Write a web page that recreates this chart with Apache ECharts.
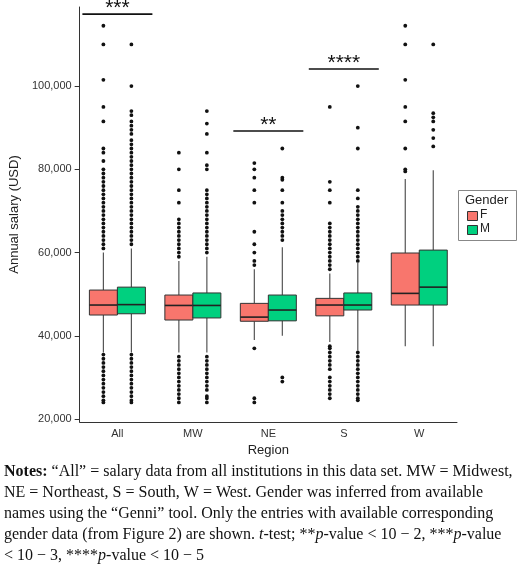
<!DOCTYPE html>
<html><head><meta charset="utf-8">
<script src="https://cdn.jsdelivr.net/npm/echarts@6/dist/echarts.min.js"></script>
<style>body{margin:0;background:#fff}#c{width:520px;height:570px}</style>
</head><body><div id="c"></div>
<script>
const categories = ['All','MW','NE','S','W'];
const yTicks = [20000,40000,60000,80000,100000];
// [whiskerLow, q1, median, q3, whiskerHigh]
const femaleBoxes = [
  [36000,45000,47400,51000,60000],
  [36000,43800,47300,49800,58000],
  [39000,43500,44500,47800,56000],
  [38500,44800,47400,49000,55000],
  [37500,47400,50200,59900,77700]
];
const maleBoxes = [
  [36000,45300,47500,51700,61000],
  [36000,44300,47300,50300,59000],
  [40000,43600,46200,49800,61300],
  [36500,46200,47400,50300,57500],
  [37500,47400,51700,60600,79800]
];
const femaleOutliers = [
  [114500,110000,101500,95000,91500,85000,84000,82000,80000,79000,78000,77000,76000,75000,74000,73000,72000,71000,70000,69000,68000,67000,66000,65000,64000,63000,62000,61000,35500,34500,33500,32500,31500,30500,29500,28500,27500,26500,25500,24500,24000],
  [84000,80000,75000,72000,68000,67000,66000,65000,64000,63000,62000,61000,60000,59000,35000,34000,33000,32000,31000,30000,29000,28000,27000,26000,25000,24000],
  [81500,80000,78000,75000,72000,65000,62000,60000,58000,57000,37000,25000,24000],
  [95000,77000,75000,72000,67000,66000,65000,64000,63000,62000,61000,60000,59000,58000,57000,56000,37500,37000,36000,35000,34000,33000,32000,30000,29000,28000,27000,26000,25000],
  [114500,110000,101500,95000,91500,85000,80000,79500]
];
const maleOutliers = [
  [110000,100000,94000,93000,91500,90500,89500,88500,87000,86000,85000,84000,83000,82000,81000,80000,79000,78000,77000,76000,75000,74000,73000,72000,71000,70000,69000,68000,67000,66000,65000,64000,63000,62000,35500,34500,33500,32500,31500,30500,29500,28500,27500,26500,25500,24500,24000],
  [94000,91000,88500,84000,81000,80000,75000,74000,73000,72000,71000,70000,69000,68000,67000,66000,65000,64000,63000,62000,61000,60000,35000,34000,33000,32000,31000,30000,29000,28000,27000,25500,25000,24000],
  [85000,78000,77500,75000,72000,70000,69000,68000,67000,66000,65000,64000,63000,30000,29000],
  [100000,90000,85000,75000,73000,71000,70000,69000,68000,67000,66000,65000,64000,63000,62000,61000,60000,59000,58000,36000,35000,34000,33000,32000,31000,30000,29000,28000,27000,26000,25000,24500],
  [110000,93500,92500,91500,89500,87500,85500]
];
const signif = [['All',117300,'***'],['NE',89200,'**'],['S',104100,'****']];
const genders = ['F','M'];
const colors = ['#F8766D','#00D07F'];

const chart = echarts.init(document.getElementById('c'));
const OFF = 14, BW = 28;
function boxData(boxes, side){ return boxes.map((b,i)=>[i,...b,side]); }
function outData(outs, side){ const r=[]; outs.forEach((a,i)=>a.forEach(v=>r.push([i,v,side]))); return r; }
function renderBox(params, api){
  const i=api.value(0), side=api.value(6);
  const dx = side===0?-OFF:OFF;
  const p = k=>api.coord([i, api.value(k)]);
  const lo=p(1), q1=p(2), md=p(3), q3=p(4), hi=p(5);
  const x = lo[0]+dx;
  return {type:'group',children:[
    {type:'line',shape:{x1:x,y1:hi[1],x2:x,y2:q3[1]},style:{stroke:'#555',lineWidth:1.2}},
    {type:'line',shape:{x1:x,y1:q1[1],x2:x,y2:lo[1]},style:{stroke:'#555',lineWidth:1.2}},
    {type:'rect',shape:{x:x-BW/2,y:q3[1],width:BW,height:q1[1]-q3[1]},style:{fill:colors[side],stroke:'#333',lineWidth:1}},
    {type:'line',shape:{x1:x-BW/2,y1:md[1],x2:x+BW/2,y2:md[1]},style:{stroke:'#222',lineWidth:1.6}}
  ]};
}
function renderOut(params, api){
  const side=api.value(2);
  const c=api.coord([api.value(0),api.value(1)]);
  return {type:'circle',shape:{cx:c[0]+(side===0?-OFF:OFF),cy:c[1],r:1.9},style:{fill:'#111'}};
}
function renderSig(params, api){
  const c=api.coord([api.value(0),api.value(1)]);
  return {type:'group',children:[
    {type:'line',shape:{x1:c[0]-OFF*2.5,y1:c[1],x2:c[0]+OFF*2.5,y2:c[1]},style:{stroke:'#111',lineWidth:1.6}},
    {type:'text',x:c[0],y:c[1]+5,style:{text:api.value(2),textAlign:'center',textVerticalAlign:'bottom',font:'21px Liberation Sans',fill:'#111'}}
  ]};
}
const series=[];
[femaleBoxes,maleBoxes].forEach((b,s)=>series.push({type:'custom',name:genders[s],renderItem:renderBox,data:boxData(b,s),encode:{x:0,y:[1,2,3,4,5]},z:2}));
[femaleOutliers,maleOutliers].forEach((o,s)=>series.push({type:'custom',renderItem:renderOut,data:outData(o,s),encode:{x:0,y:1},z:3}));
series.push({type:'custom',renderItem:renderSig,clip:false,data:signif.map(d=>[categories.indexOf(d[0]),d[1],d[2]]),encode:{x:0,y:1},z:4});

chart.setOption({
  animation:false,
  grid:{left:61,top:7,right:63,bottom:148},
  xAxis:{type:'category',data:categories,name:'Region',nameLocation:'middle',nameGap:20,
    nameTextStyle:{fontFamily:'Liberation Sans',fontSize:13,color:'#222'},
    axisLine:{lineStyle:{color:'#333'}},axisTick:{alignWithLabel:true,lineStyle:{color:'#333'}},
    axisLabel:{fontFamily:'Liberation Sans',fontSize:11,color:'#333',margin:6}},
  yAxis:{type:'value',min:19300,max:119000,name:'Annual salary (USD)',nameLocation:'middle',nameGap:48,
    nameTextStyle:{fontFamily:'Liberation Sans',fontSize:13,color:'#222'},
    splitLine:{show:false},axisLine:{show:true,lineStyle:{color:'#333'}},
    axisTick:{show:true,customValues:yTicks,lineStyle:{color:'#333'}},
    axisLabel:{customValues:yTicks,fontFamily:'Liberation Sans',fontSize:11,color:'#333',formatter:v=>v.toLocaleString('en-US')}},
  series:series,
  graphic:[
    {type:'rect',left:458,top:190,shape:{width:58,height:50},style:{fill:'#fff',stroke:'#888',lineWidth:1}},
    {type:'text',left:465,top:194,style:{text:'Gender',font:'13px Liberation Sans',fill:'#222'}},
    {type:'rect',left:467,top:211,shape:{width:10,height:9},style:{fill:colors[0],stroke:'#333'}},
    {type:'rect',left:467,top:225,shape:{width:10,height:9},style:{fill:colors[1],stroke:'#333'}},
    {type:'text',left:480,top:209,style:{text:'F',font:'12px Liberation Sans',fill:'#222'}},
    {type:'text',left:480,top:223,style:{text:'M',font:'12px Liberation Sans',fill:'#222'}},
    {type:'text',left:4,top:461,style:{
      text:'{b|Notes:} “All” = salary data from all institutions in this data set. MW = Midwest,\nNE = Northeast, S = South, W = West. Gender was inferred from available\nnames using the “Genni” tool. Only the entries with available corresponding\ngender data (from Figure 2) are shown. {i|t}-test; **{i|p}-value < 10 − 2, ***{i|p}-value\n< 10 − 3, ****{i|p}-value < 10 − 5',
      font:'16px Liberation Serif',fill:'#111',lineHeight:21,
      rich:{b:{fontWeight:'bold',fontFamily:'Liberation Serif',fontSize:16,lineHeight:21},i:{fontStyle:'italic',fontFamily:'Liberation Serif',fontSize:16,lineHeight:21}}}}
  ]
});
</script></body></html>
